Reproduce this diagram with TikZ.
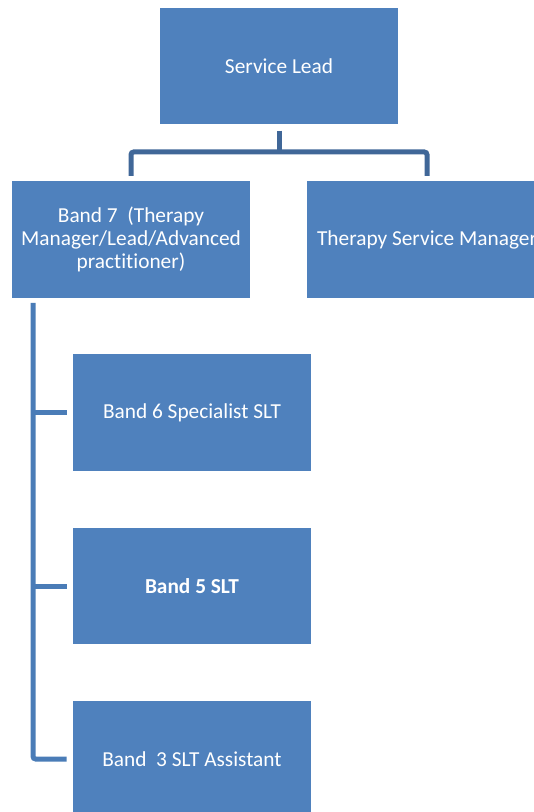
\documentclass[tikz,border=0pt]{standalone}
\usepackage{fontspec}
\setmainfont[Ligatures=NoCommon]{Carlito}
\usetikzlibrary{positioning}

\begin{document}
\begin{tikzpicture}[x=0.75pt,y=-0.75pt,
	box/.style={fill=boxblue, draw=none, text=white, align=center, minimum width=178.5pt, minimum height=87.5pt, inner sep=0pt, font=\fontsize{16pt}{17.5pt}\selectfont},
	topline/.style={draw=lineblue, line width=3.75pt, rounded corners=2pt},
	sideline/.style={draw=sideblue, line width=3.75pt, rounded corners=2pt}]
	\definecolor{boxblue}{RGB}{79,129,189}
	\definecolor{lineblue}{RGB}{64,103,152}
	\definecolor{sideblue}{RGB}{74,124,183}

	\clip (0,0) rectangle (534,812);

	\node (lead) at (279,66) [box] {Service Lead};
	\node (band7) at (131,239.5) [box] {Band 7\ \ (Therapy\\Manager/Lead/Advanced\\practitioner)};
	\node (tsm) at (427,239.5) [box, minimum width=180pt] {Therapy Service Manager};
	\node (band6) at (192,412.5) [box] {Band 6 Specialist SLT};
	\node (band5) at (192,586) [box] {\bfseries Band 5 SLT};
	\node (band3) at (192,759) [box] {Band\ \ 3 SLT Assistant};

	% top tree
	\coordinate (bar) at (279,152);
	\draw[topline] ([yshift=-4.5pt]lead.south) -- (bar);
	\draw[topline] ([yshift=3.75pt]band7.north) |- (bar) -| ([yshift=3.75pt]tsm.north);

	% side tree
	\coordinate (spine) at (33,303);
	\draw[sideline] (spine) |- ([xshift=-4.5pt]band3.west);
	\draw[sideline] (spine |- band6.west) -- ([xshift=-4.5pt]band6.west);
	\draw[sideline] (spine |- band5.west) -- ([xshift=-4.5pt]band5.west);
\end{tikzpicture}
\end{document}
